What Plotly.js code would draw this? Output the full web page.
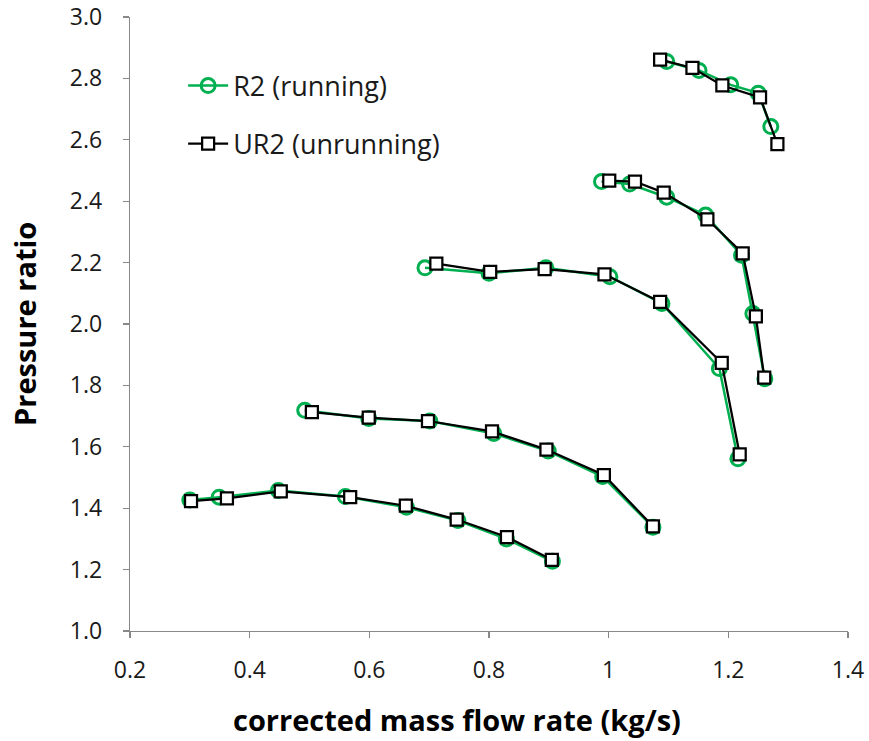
<!DOCTYPE html>
<html>
<head>
<meta charset="utf-8">
<script src="https://cdn.plot.ly/plotly-3.0.1.min.js"></script>
<style>html,body{margin:0;padding:0;background:#fff;}#chart{width:869px;height:741px;}</style>
</head>
<body>
<div id="chart"></div>
<script>
// R2 (running) — five speed lines, separated by null
var r2X = [0.300, 0.349, 0.448, 0.560, 0.662, 0.748, 0.829, 0.906, null,
           0.492, 0.599, 0.701, 0.808, 0.899, 0.990, 1.074, null,
           0.693, 0.800, 0.895, 1.002, 1.089, 1.185, 1.216, null,
           0.988, 1.035, 1.097, 1.162, 1.222, 1.241, 1.261, null,
           1.097, 1.151, 1.204, 1.250, 1.271];
var r2Y = [1.427, 1.436, 1.458, 1.438, 1.403, 1.360, 1.300, 1.227, null,
           1.719, 1.692, 1.684, 1.643, 1.586, 1.503, 1.338, null,
           2.183, 2.165, 2.183, 2.154, 2.067, 1.855, 1.561, null,
           2.464, 2.456, 2.413, 2.355, 2.224, 2.034, 1.822, null,
           2.855, 2.826, 2.779, 2.752, 2.643];
// UR2 (unrunning)
var ur2X = [0.302, 0.362, 0.452, 0.568, 0.661, 0.746, 0.830, 0.905, null,
            0.504, 0.599, 0.698, 0.805, 0.896, 0.992, 1.074, null,
            0.712, 0.802, 0.893, 0.993, 1.086, 1.189, 1.219, null,
            1.001, 1.044, 1.092, 1.165, 1.224, 1.246, 1.260, null,
            1.086, 1.140, 1.190, 1.253, 1.282];
var ur2Y = [1.423, 1.432, 1.455, 1.436, 1.408, 1.363, 1.306, 1.232, null,
            1.713, 1.695, 1.684, 1.650, 1.591, 1.508, 1.341, null,
            2.197, 2.170, 2.179, 2.162, 2.072, 1.873, 1.575, null,
            2.467, 2.464, 2.428, 2.341, 2.230, 2.025, 1.825, null,
            2.861, 2.834, 2.777, 2.738, 2.586];

var xTitle = 'corrected mass flow rate (kg/s)';
var yTitle = 'Pressure ratio';
var names = ['R2 (running)', 'UR2 (unrunning)'];

var FONT = '"Open Sans", Lato, sans-serif';

var traces = [
  {x: r2X, y: r2Y, name: names[0], type: 'scatter', mode: 'lines+markers',
   connectgaps: false, legendgroup: 'a',
   line: {color: '#00B050', width: 2.5},
   marker: {symbol: 'circle-open', size: 14, color: '#00B050', line: {width: 3, color: '#00B050'}}},
  {x: ur2X, y: ur2Y, name: names[1], type: 'scatter', mode: 'lines+markers',
   connectgaps: false, legendgroup: 'b',
   line: {color: '#000000', width: 2.25},
   marker: {symbol: 'square', size: 12, color: '#ffffff', line: {width: 2.25, color: '#000000'}}}
];

var axisCommon = {
  showgrid: false, zeroline: false, showline: true, linecolor: '#888888', linewidth: 1.3,
  ticks: 'outside', ticklen: 6, tickcolor: '#888888', tickwidth: 1.3,
  tickfont: {family: FONT, size: 23, color: '#1a1a1a'}
};

var layout = {
  width: 869, height: 741,
  margin: {l: 130, r: 21, t: 17, b: 110},
  paper_bgcolor: '#ffffff', plot_bgcolor: '#ffffff',
  showlegend: true,
  legend: {x: 0.074, y: 0.9275, xanchor: 'left', yanchor: 'top',
           font: {family: FONT, size: 27, color: '#1a1a1a'},
           traceorder: 'grouped', tracegroupgap: 20, bgcolor: 'rgba(0,0,0,0)', itemwidth: 40},
  xaxis: Object.assign({}, axisCommon, {range: [0.2, 1.4], dtick: 0.2, tick0: 0.2, ticklabelstandoff: 12}),
  yaxis: Object.assign({}, axisCommon, {range: [1.0, 3.0], dtick: 0.2, tick0: 1.0, tickformat: '.1f', ticklabelstandoff: 16}),
  annotations: [
    {text: '<b>' + xTitle + '</b>', xref: 'paper', yref: 'paper', x: 0.455, y: 0,
     xanchor: 'center', yanchor: 'middle', yshift: -88, showarrow: false,
     font: {family: FONT, size: 29, color: '#000000'}},
    {text: '<b>' + yTitle + '</b>', xref: 'paper', yref: 'paper', x: 0, y: 0.5,
     xanchor: 'center', yanchor: 'middle', xshift: -106, textangle: -90, showarrow: false,
     font: {family: FONT, size: 29, color: '#000000'}}
  ]
};

Plotly.newPlot('chart', traces, layout, {staticPlot: true, displayModeBar: false});
</script>
</body>
</html>
